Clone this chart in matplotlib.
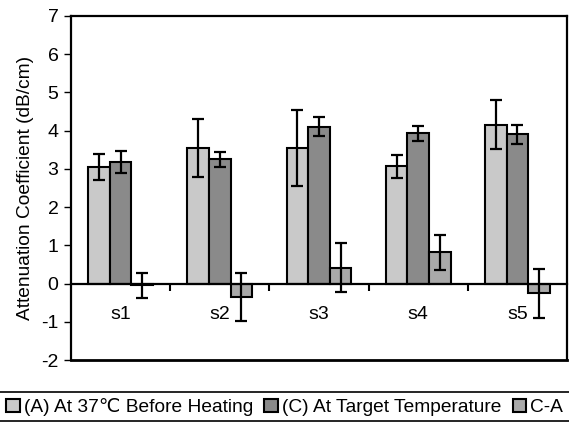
import numpy as np
import matplotlib
matplotlib.use('Agg')
import matplotlib.pyplot as plt
from matplotlib.lines import Line2D
from matplotlib.patches import Patch

plt.rcParams['font.family'] = ['Liberation Sans', 'DejaVu Sans']
plt.rcParams['axes.unicode_minus'] = False

samples = ['s1', 's2', 's3', 's4', 's5']
before = [3.05, 3.55, 3.55, 3.07, 4.15]
before_err = [0.35, 0.75, 1.00, 0.30, 0.64]
target = [3.17, 3.25, 4.10, 3.93, 3.90]
target_err = [0.29, 0.19, 0.25, 0.20, 0.24]
diff = [-0.05, -0.35, 0.41, 0.82, -0.26]
diff_err = [0.33, 0.63, 0.64, 0.46, 0.63]

labels = ['(A) At 37\u2103 Before Heating', '(C) At Target Temperature', 'C-A']
colors = ['#c9c9c9', '#8a8a8a', '#a9a9a9']

fig = plt.figure(figsize=(5.69, 4.23), dpi=100)
ax = fig.add_axes([71 / 569, 1 - 360 / 423, 496 / 569, 344 / 423])

x = np.arange(len(samples))
w = 0.218
err_kw = dict(ecolor='black', elinewidth=1.6, capsize=4.5, capthick=1.6)
for off, vals, errs, c in [(-w, before, before_err, colors[0]),
                           (0, target, target_err, colors[1]),
                           (w, diff, diff_err, colors[2])]:
    ax.bar(x + off, vals, w, yerr=errs, color=c, edgecolor='black',
           linewidth=1.5, error_kw=err_kw, zorder=2)

ax.set_xlim(-0.5, 4.5)
ax.set_ylim(-2, 7)
ax.set_yticks(range(-2, 8))
ax.tick_params(axis='y', labelsize=14, length=5, width=1, direction='out', pad=4)

# category axis sits on the zero line, box closed at the bottom
ax.spines['bottom'].set_position(('data', 0))
ax.set_xticks(x[:-1] + 0.5)
ax.set_xticklabels([])
ax.set_xticks(x, minor=True)
ax.set_xticklabels(samples, minor=True)
ax.tick_params(axis='x', which='major', length=5, width=1.5, direction='out')
ax.tick_params(axis='x', which='minor', length=0, pad=16, labelsize=14)
ax.axhline(-2, color='black', lw=2, clip_on=False, zorder=3)
for s in ax.spines.values():
    s.set_linewidth(1.6)

ax.set_ylabel('Attenuation Coefficient (dB/cm)', fontsize=13.8, labelpad=5)

# legend strip below the plot
handles = [Patch(facecolor=c, edgecolor='black', linewidth=1.5) for c in colors]
fig.legend(handles, labels, loc='center', bbox_to_anchor=(0.5, 1 - 407 / 423),
           ncol=3, frameon=False, fontsize=13.8, handlelength=0.7, handleheight=0.7,
           handletextpad=0.2, columnspacing=0.6, borderaxespad=0)
for yy in (392, 421):
    fig.add_artist(Line2D([0, 1], [1 - yy / 423] * 2, color='black', lw=1.2,
                          transform=fig.transFigure))

fig.savefig('out.png', dpi=100)
